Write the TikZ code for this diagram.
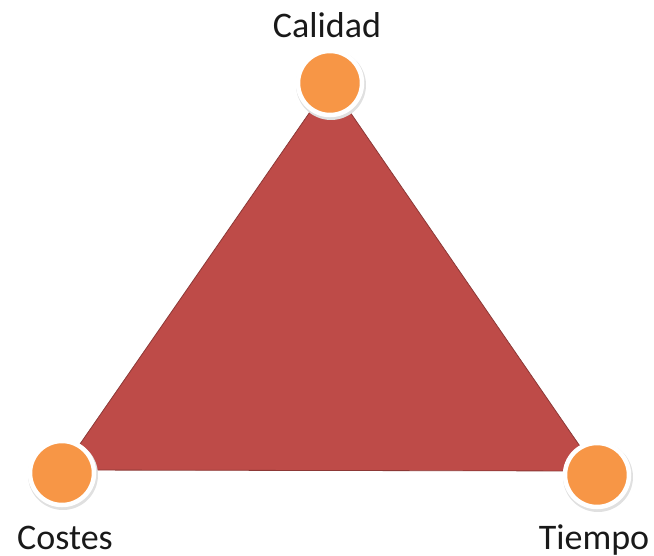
\documentclass[tikz,border=0pt]{standalone}
\usepackage{fontspec}
\setmainfont{Carlito}
\definecolor{tri}{HTML}{BE4B48}
\definecolor{triline}{HTML}{8C3836}
\definecolor{dot}{HTML}{F79646}
\begin{document}
\begin{tikzpicture}[x=1pt,y=-1pt,
  dotnode/.style={circle,fill=dot,draw=white,line width=4.5pt,minimum size=64pt,inner sep=0pt},
  lbl/.style={font=\fontsize{36}{42}\selectfont,text=black!90,inner sep=0pt,anchor=base}]
\useasboundingbox (0,0) rectangle (654,556);
\coordinate (t) at (330,83);
\coordinate (l) at (62,470);
\coordinate (r) at (597,471);
\fill[tri,draw=triline,line width=0.8pt] (t) -- (r) -- (l) -- cycle;
\fill[black!12] (331,85) circle (35);
\fill[black!12] (63,475) circle (35);
\fill[black!12] (598,477) circle (35);
\node[dotnode] (ca) at (330,83) {};
\node[dotnode] (co) at (62,473) {};
\node[dotnode] (ti) at (597,475) {};
\node[lbl] (lca) at (327,38) {Calidad};
\node[lbl] (lco) at (65,549) {Costes};
\node[lbl] (lti) at (594,549) {Tiempo};
\end{tikzpicture}
\end{document}
